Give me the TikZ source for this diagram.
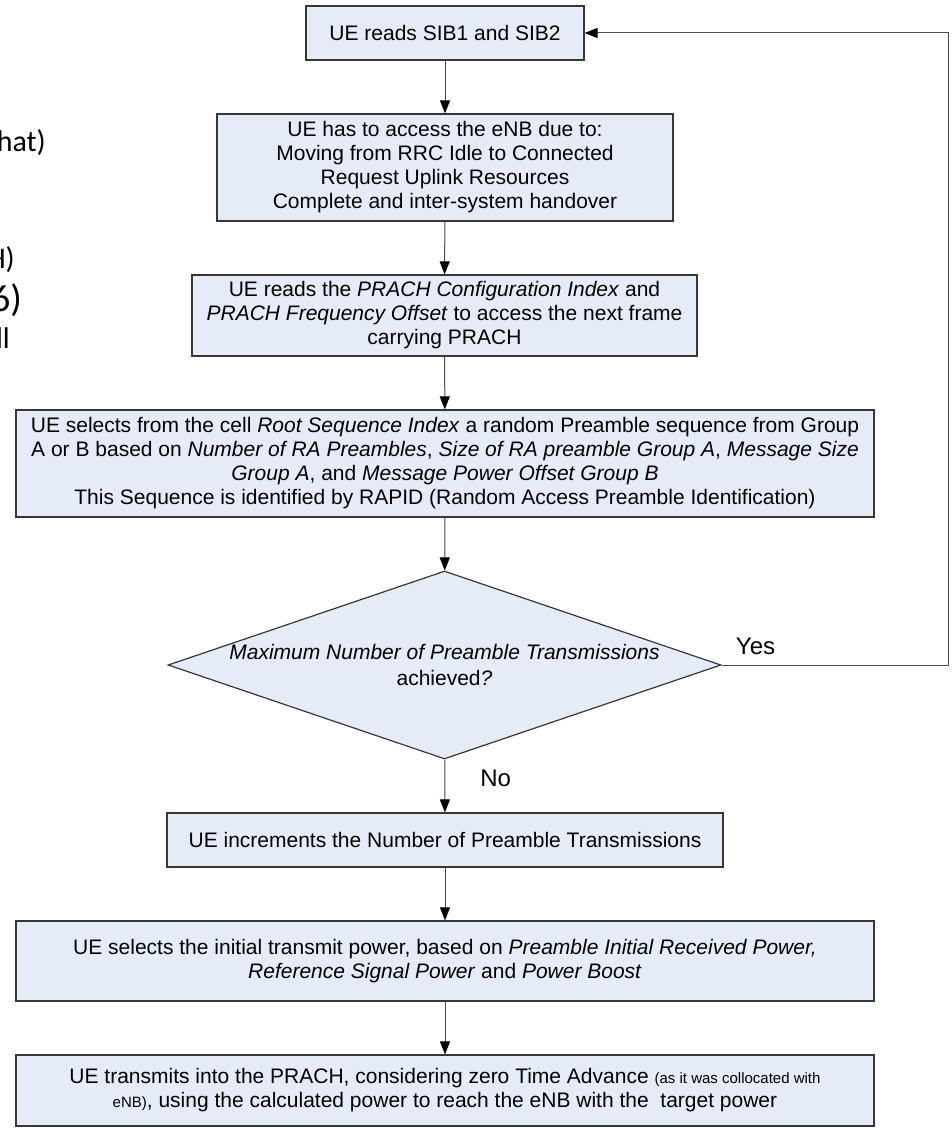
\documentclass[tikz,border=0pt]{standalone}
\usepackage{fontspec}
\setmainfont{Liberation Sans}
\newfontfamily\slidefont{Carlito}
\usetikzlibrary{shapes.geometric,arrows.meta}

\definecolor{boxfill}{RGB}{230,236,247}
\definecolor{boxline}{RGB}{55,55,55}

\begin{document}
\begin{tikzpicture}[x=1pt, y=-1pt]
    % Styles
    \tikzstyle{process} = [rectangle, draw=boxline, line width=1.2pt, fill=boxfill, align=center, inner sep=0pt, font=\fontsize{21}{24}\selectfont]
    \tikzstyle{decision} = [diamond, draw=boxline, line width=1.2pt, fill=boxfill, align=center, aspect=2.94, inner xsep=-20pt, inner ysep=0pt, minimum width=553pt, minimum height=188pt, font=\fontsize{21}{26}\selectfont]
    \tikzstyle{arrow} = [-{Triangle[length=13pt, width=10pt, color=black]}, draw=black!70, line width=1pt]
    \tikzstyle{answer} = [font=\fontsize{24}{28}\selectfont, inner sep=0pt]
    \tikzstyle{fragment} = [anchor=east, inner sep=0pt, font=\slidefont\fontsize{30}{34}\selectfont]

    \useasboundingbox (0,0) rectangle (951,1129);

    % Cut-off slide text on the left
    \node[fragment] (fragA) at (46,143) {hat)};
    \node[fragment] (fragB) at (15,260) {H)};
    \node[fragment, font=\slidefont\fontsize{38}{40}\selectfont] (fragC) at (22,300) {6)};
    \node[fragment] (fragD) at (10,338) {ll};

    % Nodes
    \node[process, minimum width=278pt, minimum height=54pt] (sib) at (445,33) {UE reads SIB1 and SIB2};
    \node[process, minimum width=456pt, minimum height=107pt] (access) at (445,167.5) {UE has to access the eNB due to:\\ Moving from RRC Idle to Connected\\ Request Uplink Resources\\ Complete and inter-system handover};
    \node[process, minimum width=505pt, minimum height=81pt] (prach) at (444.5,315.5) {UE reads the \textit{PRACH Configuration Index} and\\ \textit{PRACH Frequency Offset} to access the next frame\\ carrying PRACH};
    \node[process, minimum width=858pt, minimum height=107pt] (preamble) at (445,463.5) {UE selects from the cell \textit{Root Sequence Index} a random Preamble sequence from Group\\ A or B based on \textit{Number of RA Preambles}, \textit{Size of RA preamble Group A}, \textit{Message Size}\\ \textit{Group A}, and \textit{Message Power Offset Group B}\\ This Sequence is identified by RAPID (Random Access Preamble Identification)};
    \node[decision] (maxtx) at (444.5,665) {\textit{Maximum Number of Preamble Transmissions}\\ achieved\textit{?}};
    \node[process, minimum width=556pt, minimum height=54pt] (incr) at (445,840) {UE increments the Number of Preamble Transmissions};
    \node[process, minimum width=858pt, minimum height=80pt] (power) at (445,961) {UE selects the initial transmit power, based on \textit{Preamble Initial Received Power,}\\ \textit{Reference Signal Power} and \textit{Power Boost}};
    \node[process, minimum width=858pt, minimum height=71pt] (transmit) at (445,1090.5) {UE transmits into the PRACH, considering zero Time Advance {\fontsize{15}{24}\selectfont (as it was collocated with}\\ {\fontsize{15}{24}\selectfont eNB)}, using the calculated power to reach the eNB with the\ \ target power};
    \coordinate (loop) at (948,665);

    % Arrows
    \draw[arrow] (sib) -- (access);
    \draw[arrow] (access) -- (prach);
    \draw[arrow] (prach) -- (preamble);
    \draw[arrow] (preamble) -- (maxtx);
    \draw[arrow] (maxtx) -- node[answer, pos=0.35, right=35pt] {No} (incr);
    \draw[arrow] (incr) -- (power);
    \draw[arrow] (power) -- (transmit);
    \draw[arrow] (maxtx.east) -- node[answer, pos=0.15, above=10pt] {Yes} (loop) |- (sib.east);
\end{tikzpicture}
\end{document}
